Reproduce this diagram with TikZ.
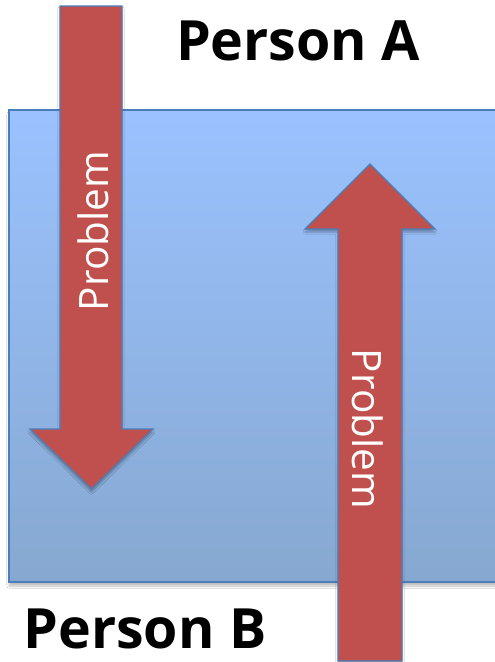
\documentclass[tikz,border=0pt]{standalone}
\usepackage{fontspec}
\setmainfont{Open Sans}
\usetikzlibrary{shadows.blur}
\definecolor{arrowred}{RGB}{192,80,77}
\definecolor{edgeblue}{RGB}{74,126,187}
\definecolor{topblue}{RGB}{155,194,255}
\definecolor{botblue}{RGB}{134,168,208}
\tikzset{
  panel/.style={draw=edgeblue, line width=1.5pt, top color=topblue, bottom color=botblue,
    blur shadow={shadow xshift=0pt, shadow yshift=-4pt, shadow blur steps=6, shadow opacity=25}},
  bigarrow/.style={draw=edgeblue, line width=1.2pt, fill=arrowred, line join=miter,
    blur shadow={shadow xshift=0pt, shadow yshift=-3pt, shadow blur steps=5, shadow opacity=30}},
  arrowlabel/.style={text=white, font=\fontsize{40.5}{40.5}\selectfont, inner sep=0pt},
  personlabel/.style={text=black, font=\fontsize{55.5}{55.5}\selectfont\bfseries, inner sep=0pt, anchor=base}
}
\begin{document}
\begin{tikzpicture}[x=1pt, y=-1pt]
\useasboundingbox (0,0) rectangle (495,662);
\fill[white] (0,0) rectangle (495,662);
% panel
\path[panel] (9,110) rectangle (510,582);
% left arrow (down)
\path[bigarrow] (60,6) -- (122,6) -- (122,429) -- (153,429) -- (91.5,489) -- (30,429) -- (60,429) -- cycle;
% right arrow (up)
\path[bigarrow] (338,661) -- (338,229) -- (305,229) -- (370,164) -- (435,229) -- (402,229) -- (402,661) -- cycle;
\node[arrowlabel, rotate=90] (pl) at (93,231) {Problem};
\node[arrowlabel, rotate=-90] (pr) at (368,429) {Problem};
\node[personlabel] (pa) at (298,60) {Person A};
\node[personlabel] (pb) at (145,648) {Person B};
\end{tikzpicture}
\end{document}
